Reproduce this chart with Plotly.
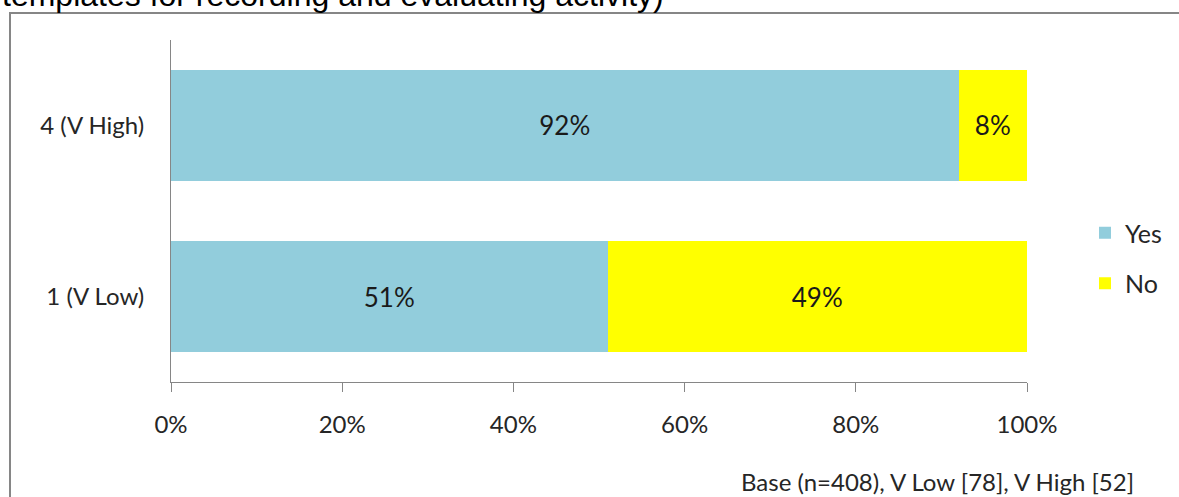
import plotly.graph_objects as go

# Share of respondents, by rating group
categories = ["1 (V Low)", "4 (V High)"]
yes_pct = [51, 92]
no_pct = [49, 8]
series_names = ["Yes", "No"]
x_ticks = [0, 20, 40, 60, 80, 100]
title_text = "templates for recording and evaluating activity)"
base_note = "Base (n=408), V Low [78], V High [52]"

W, H = 1179, 497
L, R, T, B = 171, 152, 40, 115
PW, PH = W - L - R, H - T - B


def px_x(p):
    return (p - L) / PW


def px_y(p):
    return (H - B - p) / PH


label_font = dict(family="Lato, 'Open Sans', sans-serif", size=26, color="#1a1a1a")
axis_color = "#868686"

fig = go.Figure()
fig.add_trace(go.Bar(
    name=series_names[0], y=categories, x=yes_pct, orientation="h",
    marker=dict(color="#92CDDC", line=dict(width=0)),
    text=[f"{v}%" for v in yes_pct], textposition="inside",
    insidetextanchor="middle", textfont=label_font,
    legendgroup="yes", width=0.65,
))
fig.add_trace(go.Bar(
    name=series_names[1], y=categories, x=no_pct, orientation="h",
    marker=dict(color="#FFFF00", line=dict(width=0)),
    text=[f"{v}%" for v in no_pct], textposition="inside",
    insidetextanchor="middle", textfont=label_font,
    legendgroup="no", width=0.65,
))

fig.update_layout(
    width=W, height=H,
    margin=dict(l=L, r=R, t=T, b=B, autoexpand=False),
    barmode="stack",
    plot_bgcolor="white", paper_bgcolor="white",
    font=dict(family="Lato, 'Open Sans', sans-serif", size=24, color="#262626"),
    uniformtext=dict(mode=False),
    legend=dict(
        x=px_x(1085), y=px_y(258), xanchor="left", yanchor="middle",
        traceorder="grouped", tracegroupgap=15,
        font=dict(size=25, color="#262626"),
        itemwidth=30, bgcolor="rgba(0,0,0,0)",
    ),
    showlegend=True,
)

fig.update_xaxes(
    range=[0, 100], tickvals=x_ticks, ticktext=[f"{v}%" for v in x_ticks],
    showgrid=False, zeroline=False, automargin=False,
    showline=True, linecolor=axis_color, linewidth=1,
    ticks="outside", ticklen=9, tickcolor=axis_color, tickwidth=1,
    ticklabelstandoff=12,
)
fig.update_yaxes(
    range=[-0.5, 1.5], showgrid=False, zeroline=False, automargin=False,
    showline=True, linecolor=axis_color, linewidth=1,
    ticks="", ticklabelstandoff=21,
)

# Outer chart frame
fig.add_shape(
    type="rect", xref="paper", yref="paper",
    x0=px_x(10), x1=px_x(1250), y0=px_y(560), y1=px_y(13),
    line=dict(color=axis_color, width=2), fillcolor="rgba(0,0,0,0)",
    layer="above",
)

fig.add_annotation(
    text=title_text, xref="paper", yref="paper",
    x=px_x(0), y=px_y(-5), xanchor="left", yanchor="middle",
    showarrow=False,
    font=dict(family="'Liberation Sans', Arial, sans-serif", size=32, color="black"),
)
fig.add_annotation(
    text=base_note, xref="paper", yref="paper",
    x=px_x(1136), y=px_y(482), xanchor="right", yanchor="middle",
    showarrow=False, font=dict(size=24, color="#262626"),
)

fig.write_html("out.html")
